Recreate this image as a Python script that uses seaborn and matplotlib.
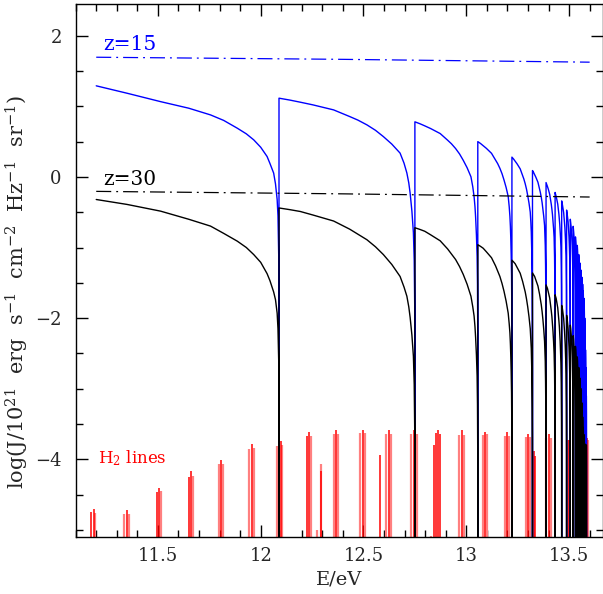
"""
Sawtooth UV background between Lyman-beta and the Lyman limit,
for z=15 and z=30, with the H2 Lyman-Werner lines marked below.
"""

import matplotlib
matplotlib.use("Agg")
import matplotlib.pyplot as plt
import seaborn as sns

# ===== Data =====
# Lyman-series edges (n = 3 ... 30), eV
lyman_edges = [12.089, 12.750, 13.056, 13.222, 13.322, 13.388, 13.432, 13.464,
               13.488, 13.506, 13.520, 13.531, 13.540, 13.547, 13.553, 13.558,
               13.562, 13.566, 13.569, 13.572, 13.574, 13.576, 13.578, 13.580,
               13.581, 13.583, 13.584, 13.585]

# first stretch of each curve (below Ly-gamma)
seg1_energy = [11.2, 11.35, 11.513, 11.65, 11.756, 11.82, 11.886, 11.93, 11.966,
               12.0, 12.031, 12.045, 12.063, 12.072, 12.080, 12.084, 12.0875]
z15_seg1 = [1.29, 1.185, 1.066, 0.973, 0.878, 0.80, 0.69, 0.61, 0.525,
            0.42, 0.289, 0.19, 0.054, -0.1, -0.32, -0.55, -1.1]
z30_seg1 = [-0.32, -0.39, -0.485, -0.60, -0.697, -0.80, -0.91, -1.0, -1.10,
            -1.21, -1.37, -1.47, -1.63, -1.74, -1.93, -2.15, -2.6]

# value just above each edge
z15_peaks = [1.115, 0.78, 0.50, 0.28, 0.09, -0.08, -0.22, -0.34, -0.47, -0.60,
             -0.70, -0.85, -0.97, -1.10, -1.22, -1.32, -1.42, -1.52, -1.62, -1.72,
             -1.85, -2.0, -2.2, -2.45, -2.7, -2.9, -3.1]
z30_peaks = [-0.44, -0.72, -0.96, -1.18, -1.36, -1.53, -1.67, -1.82, -1.96, -2.10,
             -2.25, -2.40, -2.55, -2.70, -2.85, -3.00, -3.20, -3.40, -3.55, -3.65,
             -3.72, -3.78, -3.80, -3.80, -3.80, -3.80, -3.80]

# shape of one tooth: fraction across the segment vs drop from its peak
profile_t = [0, 0.08, 0.157, 0.25, 0.402, 0.52, 0.58, 0.647, 0.71, 0.768,
             0.83, 0.891, 0.92, 0.941, 0.955, 0.965, 0.978, 0.989, 0.995, 0.999]
z15_profile = [0, -0.027, -0.057, -0.095, -0.166, -0.26, -0.31, -0.378, -0.455, -0.544,
               -0.65, -0.778, -0.92, -1.06, -1.2, -1.345, -1.6, -1.905, -2.3, -3.0]
z30_profile = [0, -0.024, -0.05, -0.10, -0.185, -0.30, -0.37, -0.45, -0.55, -0.66,
               -0.80, -0.97, -1.12, -1.25, -1.40, -1.55, -1.80, -2.1, -2.5, -3.2]

# unshielded (dash-dot) spectra
flat_energy = [11.2, 12.4, 13.6]
z15_flat = [1.695, 1.665, 1.625]
z30_flat = [-0.205, -0.24, -0.285]

# H2 Lyman-Werner lines
h2_energy = [11.175, 11.188, 11.194, 11.337, 11.350, 11.359, 11.495, 11.507, 11.515,
             11.651, 11.662, 11.670, 11.796, 11.809, 11.818, 11.942, 11.956, 11.966,
             12.081, 12.097, 12.105, 12.223, 12.235, 12.243, 12.275, 12.293, 12.293,
             12.355, 12.368, 12.376, 12.484, 12.496, 12.506, 12.578,
             12.610, 12.622, 12.632, 12.733, 12.745, 12.760,
             12.829, 12.843, 12.853, 12.863, 12.872, 12.965, 12.978, 12.990,
             13.080, 13.090, 13.100, 13.188, 13.200, 13.210,
             13.290, 13.302, 13.312, 13.330, 13.335, 13.390, 13.402, 13.414,
             13.493, 13.500, 13.585, 13.592]
h2_top = [-4.75, -4.70, -4.755, -4.78, -4.72, -4.77, -4.46, -4.40, -4.45,
          -4.25, -4.165, -4.23, -4.06, -4.01, -4.06, -3.855, -3.79, -3.84,
          -3.81, -3.74, -3.80, -3.67, -3.62, -3.67, -5.0, -4.07, -4.17,
          -3.64, -3.58, -3.64, -3.63, -3.58, -3.63, -3.94,
          -3.64, -3.58, -3.64, -3.64, -3.58, -3.64,
          -5.08, -3.80, -3.63, -3.58, -3.64, -3.66, -3.59, -3.66,
          -3.66, -3.62, -3.64, -3.67, -3.61, -3.67,
          -3.68, -3.64, -3.68, -3.88, -3.95, -3.70, -3.64, -3.70,
          -3.72, -3.72, -3.70, -3.73]
h2_branch = ["R", "R", "P", "P", "R", "P", "R", "R", "P",
             "R", "R", "P", "P", "R", "P", "P", "R", "P",
             "P", "R", "P", "R", "R", "P", "P", "P", "R",
             "P", "R", "P", "P", "R", "P", "R",
             "P", "R", "P", "P", "R", "P",
             "P", "R", "R", "R", "R", "P", "R", "P",
             "P", "R", "P", "P", "R", "P",
             "P", "R", "P", "R", "R", "P", "R", "P",
             "P", "R", "R", "P"]

XMIN, XMAX = 11.103, 13.665
YMIN, YMAX = -5.1, 2.445
DROP = -9.0


def sawtooth(first_v, peaks, profile):
    energy = list(seg1_energy) + [lyman_edges[0]]
    value = list(first_v) + [DROP]
    for i, peak in enumerate(peaks):
        lo, hi = lyman_edges[i], lyman_edges[i + 1]
        for t, d in zip(profile_t, profile):
            energy.append(lo + t * (hi - lo))
            value.append(peak + d)
        energy.append(hi)
        value.append(DROP)
    return energy, value


sns.set_theme(style="ticks")
plt.rcParams["font.family"] = ["DejaVu Serif"]
plt.rcParams["mathtext.fontset"] = "dejavuserif"

fig = plt.figure(figsize=(6.03, 5.94), dpi=100)
ax = fig.add_axes([0.1255, 0.096, 0.8745, 0.8968])

# ===== H2 lines =====
for branch, col, lw in [("P", "#ff8080", 1.6), ("R", "#ff0000", 1.1)]:
    xs = [e for e, b in zip(h2_energy, h2_branch) if b == branch]
    tops = [t for t, b in zip(h2_top, h2_branch) if b == branch]
    ax.vlines(xs, YMIN, tops, color=col, lw=lw)

# ===== sawtooth curves =====
e15, v15 = sawtooth(z15_seg1, z15_peaks, z15_profile)
e30, v30 = sawtooth(z30_seg1, z30_peaks, z30_profile)
sns.lineplot(x=e15, y=v15, ax=ax, color="#0000ff", lw=1.0, estimator=None, sort=False)
sns.lineplot(x=e30, y=v30, ax=ax, color="black", lw=1.0, estimator=None, sort=False)

# ===== dash-dot unshielded spectra =====
sns.lineplot(x=flat_energy, y=z15_flat, ax=ax, color="#0000ff", lw=0.9,
             linestyle=(0, (12, 4, 1.5, 4)), estimator=None, sort=False)
sns.lineplot(x=flat_energy, y=z30_flat, ax=ax, color="black", lw=0.9,
             linestyle=(0, (12, 4, 1.5, 4)), estimator=None, sort=False)

ax.text(11.235, 1.87, "z=15", color="#0000ff", fontsize=14.5, va="center")
ax.text(11.235, -0.04, "z=30", color="black", fontsize=14.5, va="center")
ax.text(11.21, -3.98, r"H$_2$ lines", color="red", fontsize=12, va="center")

ax.set_xlim(XMIN, XMAX)
ax.set_ylim(YMIN, YMAX)
ax.set_xticks([11.5, 12, 12.5, 13, 13.5])
ax.set_xticklabels(["11.5", "12", "12.5", "13", "13.5"])
ax.set_xticks([11.1 + 0.1 * i for i in range(26)], minor=True)
ax.set_yticks([-4, -2, 0, 2])
ax.set_yticks([-5 + 0.5 * i for i in range(15)], minor=True)
ax.tick_params(which="both", direction="in", top=True, right=True,
               color="black", labelsize=13, width=1.0)
ax.tick_params(which="major", length=8.5)
ax.tick_params(which="minor", length=4.7)
ax.tick_params(axis="x", which="major", pad=7)
ax.tick_params(axis="y", which="major", pad=10)
for sp in ax.spines.values():
    sp.set_linewidth(1.0)
    sp.set_color("black")

ax.set_xlabel("E/eV", fontsize=14)
ax.set_ylabel(r"log(J/10$^{21}$  erg  s$^{-1}$  cm$^{-2}$  Hz$^{-1}$  sr$^{-1}$)", fontsize=15)
ax.yaxis.set_label_coords(-0.085, 0.46)

fig.savefig("out.png", dpi=100)
